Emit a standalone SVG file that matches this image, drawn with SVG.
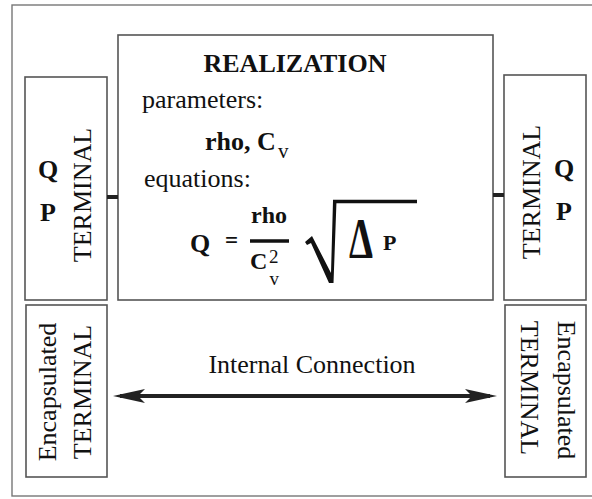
<svg xmlns="http://www.w3.org/2000/svg" width="592" height="499" viewBox="0 0 592 499">
<style>
  .box{fill:none;stroke:#555;stroke-width:1.6}
  .frame{fill:none;stroke:#777;stroke-width:1.4}
  .t{font-family:"Liberation Serif","Times New Roman",serif;fill:#111;font-size:26px}
  .b{font-weight:bold}
  .s{font-size:21px}
  .ss{font-size:19px}
  .stub{stroke:#222;stroke-width:4}
</style>
<defs>
  <marker id="ah" viewBox="0 0 32 14" refX="25" refY="7" markerWidth="32" markerHeight="14" markerUnits="userSpaceOnUse" orient="auto-start-reverse">
    <path d="M0,0 L32,7 L0,14 L7,7 Z" fill="#222"/>
  </marker>
</defs>
<rect width="592" height="499" fill="#fff"/>
<g id="frame">
  <rect class="frame" x="12" y="5" width="600" height="491"/>
</g>
<g id="realization">
  <rect class="box" x="118" y="35" width="375" height="265"/>
  <text class="t b" x="295" y="72" text-anchor="middle">REALIZATION</text>
  <text class="t" x="142" y="108">parameters:</text>
  <text class="t b" x="205" y="150">rho, C</text>
  <text class="t s" x="278" y="158">v</text>
  <text class="t" x="144" y="187">equations:</text>
  <text class="t b" x="190" y="252">Q</text>
  <text class="t b" x="225" y="248" style="font-size:23px">=</text>
  <text class="t b" x="269" y="223" style="font-size:24px" text-anchor="middle">rho</text>
  <line x1="250" y1="241" x2="289" y2="241" stroke="#111" stroke-width="3.4"/>
  <text class="t b" x="250" y="269" style="font-size:24px">C</text>
  <text class="t ss" x="269" y="263">2</text>
  <text class="t ss" x="269.5" y="285">v</text>
  <path d="M305,242 L312,236 L331,273 L333,201 L336.5,201 L333.5,283 L329,283 L311,243 L307,245 Z" fill="#111"/>
  <line x1="333" y1="201.5" x2="417" y2="201.5" stroke="#111" stroke-width="3.5"/>
  <text class="t b" x="349" y="258" style="font-size:56px" textLength="24" lengthAdjust="spacingAndGlyphs">Δ</text>
  <text class="t b" x="383" y="250" style="font-size:22px">P</text>
</g>
<g id="terminal-left">
  <rect class="box" x="25" y="77" width="82" height="223"/>
  <text class="t b" x="38" y="178">Q</text>
  <text class="t b" x="40" y="221">P</text>
  <text class="t" transform="translate(91,195) rotate(-90)" text-anchor="middle">TERMINAL</text>
</g>
<g id="terminal-right">
  <rect class="box" x="504" y="75" width="82" height="225"/>
  <text class="t b" x="554" y="177">Q</text>
  <text class="t b" x="556" y="220">P</text>
  <text class="t" transform="translate(540,192) rotate(-90)" text-anchor="middle">TERMINAL</text>
</g>
<g id="encapsulated-left">
  <rect class="box" x="26" y="305" width="81" height="172"/>
  <text class="t" transform="translate(56,392) rotate(-90)" text-anchor="middle">Encapsulated</text>
  <text class="t" transform="translate(91,392) rotate(-90)" text-anchor="middle">TERMINAL</text>
</g>
<g id="encapsulated-right">
  <rect class="box" x="505" y="305" width="81" height="172"/>
  <text class="t" transform="translate(558,390) rotate(90)" text-anchor="middle">Encapsulated</text>
  <text class="t" transform="translate(521,388) rotate(90)" text-anchor="middle">TERMINAL</text>
</g>
<g id="connectors">
  <line class="stub" x1="107" y1="197" x2="118" y2="197"/>
  <line class="stub" x1="493" y1="195" x2="504" y2="195"/>
  <line x1="120" y1="396" x2="490" y2="396" stroke="#222" stroke-width="4" marker-start="url(#ah)" marker-end="url(#ah)"/>
  <text class="t" x="312" y="373" text-anchor="middle">Internal Connection</text>
</g>
</svg>
